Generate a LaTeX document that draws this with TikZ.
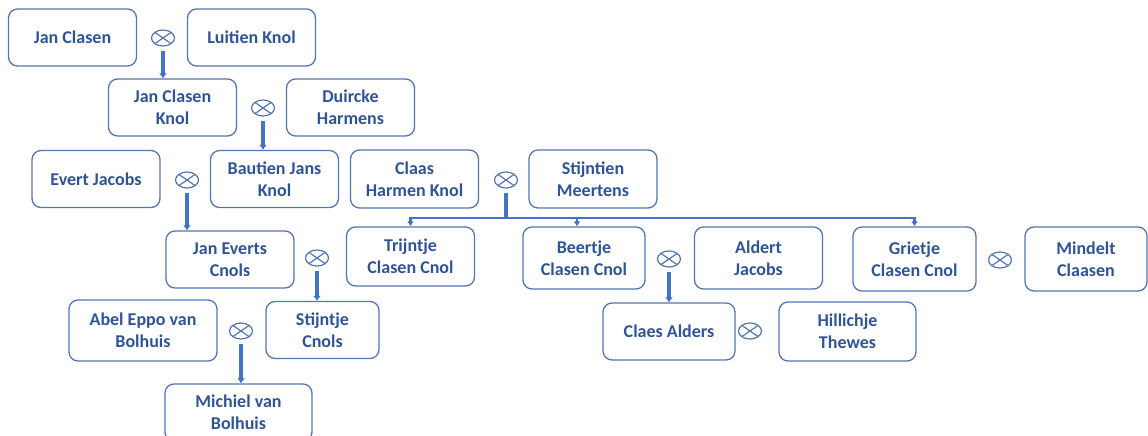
\documentclass[tikz,border=0pt]{standalone}
\usepackage{fontspec}
\setmainfont{Carlito}
\usepackage{tikz}
\usetikzlibrary{shapes.geometric}
\usetikzlibrary{arrows.meta}
\definecolor{namecol}{RGB}{47,84,150}
\definecolor{boxcol}{RGB}{84,116,178}
\definecolor{linkcol}{RGB}{68,114,196}
\tikzset{
    person/.style={draw=boxcol, line width=1.3pt, rounded corners=9pt, align=center,
        text=namecol, font=\bfseries\fontsize{18}{22}\selectfont,
        inner sep=0pt, minimum width=128pt, minimum height=57pt},
    wed/.style={draw=boxcol, ellipse, line width=1.2pt, inner sep=0pt,
        minimum width=23pt, minimum height=16pt,
        path picture={\draw[boxcol, line width=1.2pt]
            (path picture bounding box.north west) -- (path picture bounding box.south east)
            (path picture bounding box.south west) -- (path picture bounding box.north east);}},
    descent/.style={draw=linkcol, line width=3.5pt, shorten <=4pt,
        -{Latex[length=5pt,width=8pt]}},
    bar/.style={draw=linkcol, line width=3.5pt, shorten <=4pt},
    branch/.style={draw=linkcol, line width=2.2pt, -{Latex[length=5pt,width=7pt]}},
}

\begin{document}
\begin{tikzpicture}[x=1pt, y=-1pt]
	\useasboundingbox (0,0) rectangle (1148,436);
	\node[person] (janclasen) at (72.5,37.5) {Jan Clasen};
	\node[person] (luitien) at (251.5,37.5) {Luitien Knol};
	\node[person] (janknol) at (172.5,107.5) {Jan Clasen\\Knol};
	\node[person] (duircke) at (350.5,107.5) {Duircke\\Harmens};
	\node[person] (evert) at (96,179) {Evert Jacobs};
	\node[person] (bautien) at (274.5,179) {Bautien Jans\\Knol};
	\node[person, minimum height=58pt] (claas) at (414.5,179) {Claas\\Harmen Knol};
	\node[person, minimum height=58pt] (stijntien) at (593,179) {Stijntien\\Meertens};
	\node[person] (janeverts) at (230,259.5) {Jan Everts\\Cnols};
	\node[person, minimum height=59pt] (trijntje) at (410.5,256.5) {Trijntje\\Clasen Cnol};
	\node[person, minimum width=122pt, minimum height=62pt] (beertje) at (584,258) {Beertje\\Clasen Cnol};
	\node[person, minimum height=62pt] (aldert) at (758.5,258) {Aldert\\Jacobs};
	\node[person, minimum width=123pt, minimum height=64pt] (grietje) at (914.5,259) {Grietje\\Clasen Cnol};
	\node[person, minimum width=122pt, minimum height=64pt] (mindelt) at (1086,259) {Mindelt\\Claasen};
	\node[person, minimum width=148pt, minimum height=61pt] (abel) at (143,330.5) {Abel Eppo van\\Bolhuis};
	\node[person, minimum width=113pt] (stijntje) at (322.5,330) {Stijntje\\Cnols};
	\node[person, minimum width=132pt] (claes) at (669,331.5) {Claes Alders};
	\node[person, minimum width=137pt, minimum height=59pt] (hillichje) at (847.5,331.5) {Hillichje\\Thewes};
	\node[person, minimum width=147pt] (michiel) at (238.5,412.5) {Michiel van\\Bolhuis};
	\node[wed] (w1) at (163,38) {};
	\node[wed] (w2) at (263,108) {};
	\node[wed] (w3) at (187,180) {};
	\node[wed] (w4) at (506,180) {};
	\node[wed] (w5) at (317,258) {};
	\node[wed] (w6) at (241,331) {};
	\node[wed] (w7) at (669,259) {};
	\node[wed] (w8) at (750,331) {};
	\node[wed] (w9) at (1000,260) {};
	\draw[descent] (w1) -- (w1 |- janknol.north);
	\draw[descent] (w2) -- (w2 |- bautien.north);
	\draw[descent] (w3) -- (w3 |- janeverts.north);
	\draw[descent] (w5) -- (w5 |- stijntje.north);
	\draw[descent] (w6) -- (w6 |- michiel.north);
	\draw[descent] (w7) -- (w7 |- claes.north);
	\coordinate (split) at (506,218);
	\draw[bar] (w4) -- (split);
	\draw[branch] (split) -| (trijntje);
	\draw[branch] (split) -| ([xshift=-7pt]beertje.north);
	\draw[branch] (split) -| (grietje);
\end{tikzpicture}
\end{document}
